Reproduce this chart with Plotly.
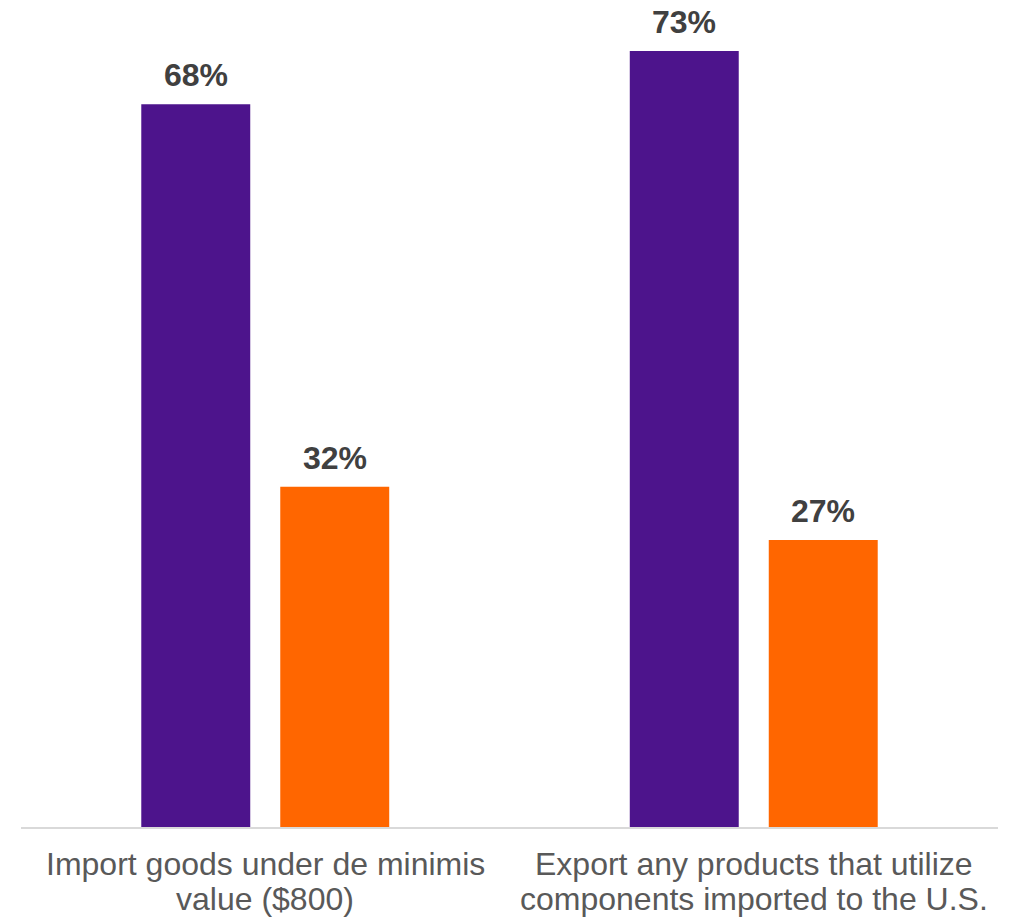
import plotly.graph_objects as go

# Survey categories, each label split into its two display lines
category_lines = [
    ["Import goods under de minimis", "value ($800)"],
    ["Export any products that utilize", "components imported to the U.S."],
]
categories = [" ".join(lines) for lines in category_lines]

# Share of respondents (%) for the two answer groups
series_a = [68, 73]
series_b = [32, 27]

purple = "#4D148C"
orange = "#FF6600"
label_font = "Liberation Sans, Arial, sans-serif"

fig = go.Figure()
fig.add_trace(go.Bar(x=categories, y=series_a, marker=dict(color=purple, line=dict(width=0)),
                     hoverinfo="skip", showlegend=False))
fig.add_trace(go.Bar(x=categories, y=series_b, marker=dict(color=orange, line=dict(width=0)),
                     hoverinfo="skip", showlegend=False))

annotations = []
# Bold value labels above each bar
bar_shift = 69.5
for cat, va, vb in zip(categories, series_a, series_b):
    for val, shift in ((va, -bar_shift), (vb, bar_shift)):
        annotations.append(dict(
            x=cat, y=val, xref="x", yref="y", text=f"<b>{val}%</b>",
            showarrow=False, xanchor="center", yanchor="bottom",
            xshift=shift, yshift=9,
            font=dict(family=label_font, size=32, color="#404040"),
        ))

# Two-line category labels beneath the axis
line_shifts = [-17, -52]
for cat, lines in zip(categories, category_lines):
    for line, ys in zip(lines, line_shifts):
        annotations.append(dict(
            x=cat, y=0, xref="x", yref="paper", text=line,
            showarrow=False, xanchor="center", yanchor="top", yshift=ys,
            font=dict(family=label_font, size=32, color="#595959"),
        ))

fig.update_layout(
    width=1009, height=918,
    margin=dict(l=21, r=11, t=0, b=91),
    paper_bgcolor="white", plot_bgcolor="white",
    barmode="group", bargap=0.431, bargroupgap=0.216,
    annotations=annotations,
    xaxis=dict(showticklabels=False, showline=True, linecolor="#D9D9D9", linewidth=2,
               ticks="", showgrid=False, zeroline=False, fixedrange=True),
    yaxis=dict(range=[0, 77.8], visible=False, showgrid=False, zeroline=False, fixedrange=True),
)

fig.write_html("out.html", config={"displayModeBar": False})
